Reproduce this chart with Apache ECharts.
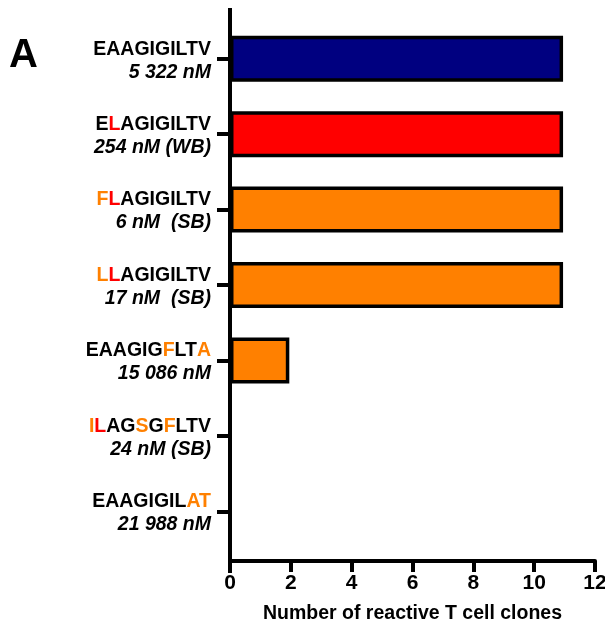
<!DOCTYPE html>
<html>
<head>
<meta charset="utf-8">
<script src="https://cdn.jsdelivr.net/npm/echarts@6/dist/echarts.min.js"></script>
<style>
  html, body { margin: 0; padding: 0; background: #fff; }
  #main { width: 605px; height: 629px; }
</style>
</head>
<body>
<div id="main"></div>
<script>
// peptide variants, top to bottom
const peptides = ['EAAGIGILTV', 'ELAGIGILTV', 'FLAGIGILTV', 'LLAGIGILTV', 'EAAGIGFLTA', 'ILAGSGFLTV', 'EAAGIGILAT']
// highlighted residues per peptide: r = red, o = orange, . = plain
const highlights = ['', '.r', 'or', 'or', '......o..o', 'or..o.o', '........oo']
const affinities = ['5 322 nM', '254 nM (WB)', '6 nM  (SB)', '17 nM  (SB)', '15 086 nM', '24 nM (SB)', '21 988 nM']
const clones = [10.95, 10.95, 10.95, 10.95, 1.95, 0, 0]

const barColors = ['#000080', '#ff0000', '#ff8000', '#ff8000', '#ff8000', '#ff8000', '#ff8000']
const FONT = '"Liberation Sans", Arial, sans-serif'

const chart = echarts.init(document.getElementById('main'), null, { renderer: 'canvas' })

// build rich text for a peptide: group runs of the same colour
const peptideLabel = (i) => {
  const seq = peptides[i]
  const mark = highlights[i]
  let out = ''
  let cur = null
  let run = ''
  for (let k = 0; k < seq.length; k++) {
    const m = mark[k]
    const st = m === 'r' ? 'r' : m === 'o' ? 'o' : 'b'
    if (st !== cur && run) {
      out += '{' + cur + '|' + run + '}'
      run = ''
    }
    cur = st
    run += seq[k]
  }
  if (run) out += '{' + cur + '|' + run + '}'
  return out + '\n{i|' + affinities[i] + '}'
}

const base = { fontFamily: FONT, fontSize: 19.5, fontWeight: 'bold', lineHeight: 23 }

const option = {
  animation: false,
  backgroundColor: '#fff',
  grid: { left: 230, right: 10, top: 21, bottom: 80, containLabel: false, outerBoundsMode: 'none' },
  xAxis: {
    type: 'value',
    min: 0,
    max: 12,
    interval: 2,
    offset: 12,
    name: 'Number of reactive T cell clones',
    nameLocation: 'middle',
    nameGap: 43,
    nameTextStyle: { fontFamily: FONT, fontSize: 19.5, fontWeight: 'bold', color: '#000' },
    axisLine: { show: true, lineStyle: { color: '#000', width: 4 } },
    axisTick: { show: true, length: 11, lineStyle: { color: '#000', width: 4 } },
    axisLabel: { margin: 12, fontFamily: FONT, fontSize: 21, fontWeight: 'bold', color: '#000' },
    splitLine: { show: false }
  },
  yAxis: {
    type: 'category',
    inverse: true,
    data: peptides,
    axisLine: { show: false },
    axisTick: { show: true, alignWithLabel: true, length: 13, lineStyle: { color: '#000', width: 4 } },
    axisLabel: {
      margin: 19,
      align: 'right',
      padding: [4, 0, 0, 0],
      formatter: (v, i) => peptideLabel(i),
      rich: {
        b: Object.assign({ color: '#000' }, base),
        r: Object.assign({ color: '#ff0000' }, base),
        o: Object.assign({ color: '#ff8000' }, base),
        i: Object.assign({ color: '#000', fontStyle: 'italic' }, base)
      }
    }
  },
  graphic: [
    {
      type: 'line',
      z: 100,
      shape: { x1: 230, y1: 8, x2: 230, y2: 573 },
      style: { stroke: '#000', lineWidth: 4 }
    },
    {
      type: 'text',
      left: 9,
      top: 36,
      style: { text: 'A', font: 'bold 40px ' + FONT, fill: '#000' }
    }
  ],
  series: [
    {
      type: 'bar',
      data: clones,
      barWidth: 46,
      itemStyle: {
        color: (p) => barColors[p.dataIndex],
        borderColor: '#000',
        borderWidth: 3.5
      }
    }
  ]
}

chart.setOption(option)
</script>
</body>
</html>
